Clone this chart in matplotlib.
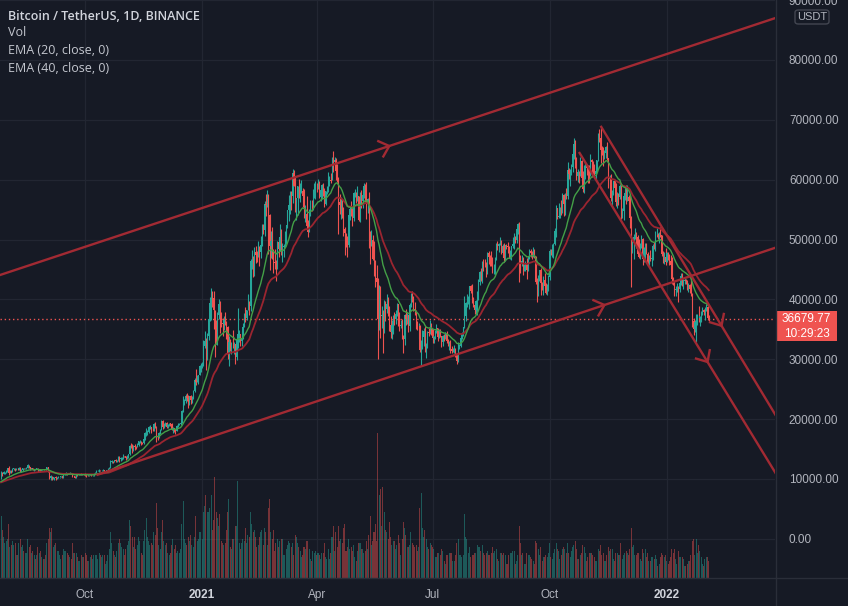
import numpy as np
import pandas as pd
import matplotlib
matplotlib.use("Agg")
import matplotlib.pyplot as plt
from matplotlib.patches import Rectangle, FancyBboxPatch
from matplotlib.lines import Line2D

# ---------------- data (prices in thousand USDT, volume in thousand BTC) ----------------
warmup_start = "2020-06-15"   # closes before the visible window (only feed the EMAs)
warmup_closes_k = [
    9.43, 9.52, 9.46, 9.38, 9.30, 9.36, 9.29, 9.69, 9.63, 9.29, 9.25, 9.16, 9.01, 9.12, 9.19, 9.14,
    9.23, 9.09, 9.06, 9.14, 9.07, 9.34, 9.25, 9.44, 9.24, 9.29, 9.24, 9.30, 9.24, 9.25, 9.19, 9.13,
    9.15, 9.17, 9.21, 9.16, 9.39, 9.54, 9.61, 9.55, 9.70, 9.93,
]

first_day = "2020-07-27"
closes_k = [
    11.03, 10.91, 11.10, 11.11, 11.35,
    11.80, 11.07, 11.23, 11.19, 11.74, 11.76, 11.60, 11.75, 11.68, 11.88, 11.40, 11.58, 11.78, 11.77, 11.86, 11.91, 12.28, 11.95, 11.75, 11.87, 11.52, 11.68, 11.65, 11.77, 11.36, 11.47, 11.33, 11.53, 11.48, 11.71, 11.66,
    11.93, 11.40, 10.17, 10.47, 10.17, 10.26, 10.37, 10.13, 10.23, 10.34, 10.39, 10.44, 10.33, 10.68, 10.79, 10.95, 10.94, 10.93, 11.08, 10.92, 10.42, 10.54, 10.24, 10.74, 10.69, 10.73, 10.77, 10.69, 10.84, 10.78,
    10.62, 10.57, 10.55, 10.67, 10.79, 10.60, 10.67, 10.92, 11.06, 11.30, 11.38, 11.54, 11.43, 11.43, 11.50, 11.32, 11.36, 11.50, 11.75, 11.91, 12.82, 12.97, 12.93, 13.12, 13.03, 13.07, 13.64, 13.27, 13.46, 13.56, 13.80,
    13.76, 13.55, 14.02, 14.14, 15.59, 15.58, 14.83, 15.48, 15.33, 15.30, 15.70, 16.28, 16.32, 16.07, 15.96, 16.73, 17.66, 17.80, 17.82, 18.66, 18.70, 18.42, 18.36, 19.16, 18.72, 17.15, 17.14, 17.72, 18.18, 19.70,
    18.76, 19.20, 19.42, 18.65, 19.15, 19.36, 19.17, 18.32, 18.55, 18.26, 18.04, 18.80, 19.17, 19.27, 19.43, 21.34, 22.80, 23.11, 23.84, 23.47, 22.72, 23.82, 23.25, 23.72, 24.69, 26.49, 26.28, 27.03, 27.36, 28.84, 28.92,
    29.33, 32.18, 33.00, 31.99, 33.95, 36.77, 39.37, 40.67, 40.24, 38.24, 35.54, 34.01, 37.37, 39.16, 36.83, 36.02, 35.82, 36.63, 35.89, 35.47, 30.85, 32.95, 32.08, 32.26, 32.25, 32.47, 30.36, 33.36, 34.25, 34.26, 33.09,
    33.50, 35.47, 37.62, 36.94, 38.29, 39.26, 38.84, 46.37, 46.40, 44.81, 47.97, 47.41, 47.23, 48.68, 47.94, 49.13, 52.12, 51.55, 55.91, 55.84, 57.41, 54.09, 48.89, 49.68, 47.07, 46.28, 46.11, 45.14,
    49.59, 48.44, 50.35, 48.37, 48.76, 48.88, 50.97, 52.38, 54.88, 55.85, 57.77, 57.22, 61.19, 59.00, 55.63, 56.90, 58.91, 57.65, 58.03, 58.10, 57.35, 54.08, 54.34, 52.30, 51.30, 55.03, 55.85, 55.78, 57.63, 58.73, 58.74,
    58.72, 58.95, 57.05, 58.20, 59.12, 57.99, 55.95, 58.08, 58.09, 59.77, 60.00, 59.86, 63.58, 62.96, 63.25, 61.46, 60.06, 56.27, 55.70, 56.47, 53.80, 51.70, 51.15, 50.11, 49.07, 54.03, 55.07, 54.88, 53.58, 57.80,
    57.83, 56.61, 57.21, 53.24, 57.47, 56.43, 57.38, 58.93, 58.28, 55.86, 56.75, 49.95, 49.72, 49.88, 46.76, 46.43, 43.54, 42.91, 36.69, 40.57, 37.29, 37.48, 34.65, 38.80, 38.32, 39.24, 38.53, 35.66, 34.61, 35.68, 37.30,
    36.69, 37.57, 39.19, 36.85, 35.52, 35.80, 33.55, 33.38, 37.39, 36.68, 37.33, 35.55, 39.02, 40.52, 40.14, 38.35, 38.09, 35.82, 35.48, 35.60, 31.61, 32.51, 33.68, 34.66, 31.64, 32.16, 34.64, 34.43, 35.87, 35.04,
    33.54, 33.86, 34.69, 35.29, 33.69, 34.22, 33.88, 32.88, 33.81, 33.51, 34.26, 33.09, 32.73, 32.82, 31.78, 31.39, 31.53, 31.78, 30.84, 29.79, 32.11, 32.29, 33.58, 34.29, 35.38, 37.27, 39.46, 39.99, 40.03, 42.24, 41.46,
    39.85, 39.15, 38.21, 39.72, 40.87, 42.84, 44.61, 43.81, 46.29, 45.60, 45.55, 44.43, 47.82, 47.10, 47.02, 45.92, 44.70, 44.71, 46.76, 49.34, 48.87, 49.29, 49.52, 47.71, 48.99, 46.85, 49.07, 48.90, 48.77, 46.99, 47.11,
    48.85, 49.28, 50.03, 49.94, 51.77, 52.66, 46.86, 46.05, 46.40, 44.85, 45.17, 46.03, 44.96, 47.09, 48.15, 47.75, 47.31, 48.29, 47.26, 42.99, 40.61, 43.56, 44.88, 42.81, 42.70, 43.18, 42.17, 41.03, 41.52, 43.79,
    48.14, 47.66, 48.20, 49.22, 51.47, 55.32, 53.79, 53.95, 54.95, 54.66, 57.47, 56.01, 57.37, 57.35, 61.67, 60.88, 61.53, 62.04, 64.28, 66.00, 62.19, 60.69, 61.29, 60.85, 63.08, 60.33, 58.46, 60.59, 62.25, 61.88, 61.32,
    61.00, 63.23, 62.93, 61.40, 61.01, 61.53, 63.27, 67.53, 66.94, 64.88, 64.81, 64.14, 64.39, 65.47, 63.56, 60.09, 60.34, 56.89, 58.05, 59.71, 58.62, 56.25, 57.27, 57.14, 58.96, 53.73, 54.72, 57.27, 57.81, 56.95,
    57.18, 56.48, 53.60, 49.15, 49.40, 50.44, 50.59, 50.47, 47.54, 47.14, 49.39, 50.05, 46.70, 48.34, 48.86, 47.63, 46.13, 46.83, 46.68, 46.91, 48.91, 48.59, 50.82, 50.82, 50.43, 50.80, 50.70, 47.54, 46.46, 47.12, 46.22,
    47.72, 47.29, 46.45, 45.83, 43.43, 43.08, 41.55, 41.68, 41.86, 41.82, 42.74, 43.92, 42.59, 43.10, 43.18, 43.11, 42.25, 42.37, 41.74, 40.68, 36.45, 35.07, 36.28, 36.65, 36.95, 36.84, 37.16, 37.72, 38.17, 37.92, 38.48,
    38.74, 36.95, 36.67977,
]
highs_k = [
    11.39, 11.24, 11.34, 11.17, 11.45,
    11.86, 12.12, 11.47, 11.42, 11.79, 11.90, 11.92, 11.80, 11.80, 12.07, 11.93, 11.62, 11.80, 11.86, 11.90, 11.96, 12.48, 12.30, 12.01, 11.88, 11.88, 11.69, 11.71, 11.82, 11.78, 11.53, 11.59, 11.55, 11.58, 11.72, 11.79,
    12.07, 11.95, 11.48, 10.63, 10.57, 10.35, 10.41, 10.44, 10.35, 10.48, 10.40, 10.48, 10.58, 10.80, 10.94, 11.10, 11.04, 11.03, 11.18, 11.05, 10.99, 10.58, 10.55, 10.78, 10.77, 10.79, 10.80, 10.95, 10.86, 10.84,
    10.95, 10.66, 10.60, 10.69, 10.80, 10.80, 10.68, 10.96, 11.10, 11.49, 11.44, 11.72, 11.56, 11.55, 11.62, 11.55, 11.40, 11.50, 11.82, 12.03, 13.22, 13.20, 13.03, 13.16, 13.35, 13.24, 13.79, 13.86, 13.64, 13.67, 14.10,
    13.90, 13.82, 14.07, 14.25, 15.75, 15.96, 15.77, 15.65, 15.84, 15.48, 15.96, 16.34, 16.48, 16.33, 16.14, 16.88, 17.86, 18.48, 18.14, 18.82, 18.97, 18.73, 18.77, 19.42, 19.48, 18.91, 17.46, 17.89, 18.35, 19.86,
    19.89, 19.34, 19.57, 19.49, 19.18, 19.42, 19.40, 19.29, 18.64, 18.58, 18.27, 18.95, 19.41, 19.35, 19.57, 21.56, 23.80, 23.29, 24.17, 24.30, 24.10, 23.84, 24.10, 23.79, 24.79, 26.87, 28.42, 27.41, 27.37, 28.99, 29.30,
    29.60, 33.30, 34.78, 33.60, 34.36, 36.94, 40.37, 41.95, 41.38, 41.35, 38.26, 36.63, 37.85, 40.10, 39.70, 37.95, 36.85, 37.30, 37.85, 36.42, 35.60, 33.83, 33.46, 32.94, 34.88, 32.92, 32.56, 33.78, 38.53, 34.93, 34.29,
    34.72, 35.98, 37.66, 38.71, 38.31, 40.96, 39.70, 46.79, 48.20, 47.31, 48.68, 48.98, 48.15, 49.71, 49.00, 50.60, 52.62, 52.53, 56.37, 57.53, 58.35, 57.53, 54.20, 51.37, 52.04, 48.37, 48.40, 46.60,
    49.79, 50.20, 52.64, 51.77, 49.45, 49.20, 51.45, 52.40, 54.90, 57.39, 58.15, 58.06, 61.84, 61.68, 60.63, 56.94, 58.98, 60.10, 59.47, 59.88, 58.59, 58.43, 55.83, 57.20, 53.23, 55.09, 56.64, 56.56, 58.40, 59.37, 59.80,
    59.46, 60.20, 59.80, 58.49, 59.25, 59.48, 58.66, 58.15, 58.89, 61.22, 60.69, 61.20, 63.77, 64.85, 63.82, 63.59, 62.57, 60.40, 57.53, 57.10, 56.78, 55.50, 52.13, 51.17, 50.57, 54.36, 55.46, 56.43, 55.20, 57.96,
    58.46, 57.92, 58.98, 57.20, 57.96, 58.36, 58.65, 59.50, 59.30, 59.60, 57.00, 58.00, 51.37, 51.57, 50.70, 49.80, 46.64, 45.82, 43.55, 42.45, 42.20, 38.83, 38.27, 39.92, 39.80, 40.90, 40.41, 38.88, 37.23, 36.48, 37.47,
    37.90, 38.23, 39.48, 39.29, 37.92, 36.49, 36.79, 34.07, 37.53, 38.40, 37.69, 37.45, 39.39, 41.06, 41.33, 40.53, 39.56, 38.20, 36.46, 36.11, 35.75, 33.30, 34.88, 35.30, 35.50, 32.70, 34.73, 35.30, 36.60, 36.10,
    35.04, 33.94, 34.95, 35.94, 35.29, 35.06, 35.11, 33.93, 34.10, 34.27, 34.59, 34.68, 33.34, 33.11, 33.19, 32.25, 31.94, 32.44, 31.90, 31.06, 32.86, 32.58, 33.65, 34.50, 35.40, 40.55, 39.54, 40.90, 40.63, 42.32, 42.42,
    42.60, 40.45, 39.78, 39.97, 41.40, 43.39, 44.74, 45.31, 46.45, 46.67, 46.74, 46.22, 47.89, 48.14, 47.37, 48.05, 47.16, 46.00, 47.05, 49.38, 49.76, 49.50, 50.50, 49.88, 49.24, 49.38, 49.17, 49.31, 49.65, 48.91, 48.25,
    48.95, 50.40, 51.05, 50.56, 51.90, 52.78, 52.92, 47.40, 47.35, 47.03, 45.99, 46.46, 46.88, 47.25, 48.49, 48.49, 48.17, 48.82, 48.37, 47.33, 43.64, 44.00, 44.98, 45.20, 42.97, 43.94, 44.35, 42.79, 42.59, 44.13,
    48.50, 48.36, 49.30, 49.50, 51.89, 55.75, 55.34, 56.10, 55.49, 56.56, 57.84, 57.68, 57.75, 58.53, 62.93, 62.00, 61.72, 62.70, 64.49, 67.00, 66.64, 63.73, 61.75, 61.49, 63.71, 63.29, 61.50, 62.50, 62.98, 62.35, 62.41,
    62.44, 64.27, 63.52, 63.09, 62.60, 61.60, 63.29, 67.79, 68.53, 69.00, 65.60, 65.45, 64.97, 65.55, 66.34, 63.58, 60.82, 60.92, 58.35, 59.86, 60.00, 59.53, 57.88, 57.77, 59.40, 59.18, 55.28, 57.45, 58.87, 59.18,
    59.05, 57.38, 57.60, 53.90, 49.70, 50.90, 51.94, 51.20, 50.80, 50.10, 49.48, 50.80, 50.20, 48.70, 49.50, 49.44, 48.00, 47.36, 48.30, 47.54, 49.33, 49.58, 51.38, 51.87, 51.16, 51.28, 52.09, 50.70, 48.14, 47.90, 48.55,
    47.95, 47.99, 47.57, 47.50, 47.07, 43.75, 43.15, 42.30, 42.79, 42.25, 43.10, 44.35, 44.46, 43.47, 43.80, 43.48, 43.20, 42.69, 42.60, 43.50, 41.10, 36.84, 36.50, 37.55, 37.55, 38.92, 37.23, 38.00, 38.72, 38.36, 38.74,
    39.27, 38.86, 37.39,
]
lows_k = [
    9.92, 10.56, 10.83, 10.85, 10.97,
    11.23, 10.66, 10.92, 11.01, 11.09, 11.57, 11.36, 11.52, 11.52, 11.53, 11.12, 11.16, 11.29, 11.65, 11.69, 11.69, 11.85, 11.82, 11.55, 11.68, 11.49, 11.38, 11.53, 11.59, 11.12, 11.26, 11.14, 11.30, 11.43, 11.47, 11.58,
    11.65, 11.17, 10.00, 9.88, 9.82, 10.02, 9.88, 9.85, 10.00, 10.15, 10.20, 10.27, 10.20, 10.22, 10.64, 10.67, 10.75, 10.81, 10.89, 10.81, 10.28, 10.35, 10.14, 10.20, 10.56, 10.64, 10.62, 10.64, 10.64, 10.67,
    10.53, 10.37, 10.50, 10.53, 10.63, 10.53, 10.57, 10.53, 10.83, 11.05, 11.28, 11.23, 11.30, 11.28, 11.26, 11.21, 11.31, 11.35, 11.41, 11.69, 11.90, 12.69, 12.72, 12.88, 12.89, 12.78, 13.06, 12.91, 12.98, 13.12, 13.42,
    13.60, 13.20, 13.29, 13.53, 14.09, 15.17, 14.34, 14.70, 14.81, 15.07, 15.28, 15.43, 15.95, 15.73, 15.81, 15.87, 16.55, 17.21, 17.34, 17.76, 18.37, 17.61, 18.00, 18.02, 18.52, 16.19, 16.44, 16.87, 17.51, 18.18,
    18.33, 18.56, 18.92, 18.59, 18.50, 18.85, 18.90, 18.20, 17.65, 17.91, 17.57, 18.02, 18.71, 19.00, 19.05, 19.29, 21.23, 22.35, 22.75, 23.06, 21.82, 22.35, 22.60, 22.70, 23.43, 24.50, 25.70, 26.22, 25.88, 27.32, 27.85,
    28.62, 28.95, 31.96, 28.13, 29.90, 33.29, 36.37, 36.50, 38.72, 35.11, 30.42, 32.53, 32.38, 36.70, 34.41, 35.36, 33.85, 34.87, 35.75, 33.40, 30.07, 28.85, 31.39, 30.88, 31.91, 30.84, 29.24, 29.84, 31.92, 32.82, 32.30,
    32.30, 33.42, 35.36, 36.16, 36.57, 38.21, 37.35, 37.99, 45.02, 43.73, 43.99, 46.13, 46.20, 47.01, 45.57, 47.00, 48.95, 50.90, 50.63, 54.00, 55.48, 47.62, 44.89, 47.00, 46.67, 44.45, 45.04, 43.00,
    45.04, 47.05, 48.10, 47.50, 46.30, 47.07, 48.75, 49.27, 51.85, 53.03, 54.27, 55.00, 56.08, 59.00, 54.57, 53.27, 54.12, 57.02, 56.27, 57.82, 55.45, 53.65, 53.00, 51.70, 50.43, 51.32, 53.96, 54.70, 54.90, 57.01, 56.77,
    57.90, 58.45, 56.96, 56.50, 56.79, 57.35, 55.47, 55.70, 57.67, 57.87, 59.00, 59.37, 59.87, 61.30, 62.02, 60.00, 59.60, 51.00, 54.22, 53.40, 53.60, 50.58, 47.50, 48.75, 47.06, 48.80, 53.22, 53.88, 52.33, 53.07,
    57.05, 56.04, 56.44, 53.05, 52.90, 55.20, 55.24, 56.92, 56.24, 53.40, 54.45, 48.60, 46.00, 48.90, 46.56, 43.83, 42.00, 42.29, 30.00, 34.86, 33.49, 35.26, 31.11, 34.38, 36.42, 37.80, 37.17, 34.68, 33.63, 33.38, 34.15,
    35.67, 35.92, 37.17, 35.57, 34.80, 35.26, 33.34, 31.00, 32.40, 35.78, 35.94, 34.60, 34.75, 38.73, 39.51, 38.12, 37.37, 35.13, 34.82, 33.34, 31.25, 28.81, 31.68, 32.29, 31.28, 30.15, 31.96, 33.86, 34.23, 34.00,
    32.71, 32.70, 33.31, 34.45, 33.13, 33.53, 33.77, 32.11, 32.26, 33.00, 33.32, 32.66, 32.20, 31.60, 31.13, 31.02, 31.18, 31.10, 30.41, 29.28, 29.48, 31.71, 32.10, 33.40, 33.88, 35.21, 36.40, 38.77, 39.20, 38.32, 41.00,
    39.42, 38.69, 37.64, 37.51, 37.33, 39.85, 42.45, 43.09, 42.80, 44.67, 45.35, 43.77, 44.24, 45.97, 45.52, 45.66, 44.38, 44.20, 43.93, 46.63, 48.25, 48.00, 49.03, 47.60, 47.13, 46.32, 46.36, 48.37, 47.76, 46.87, 46.70,
    46.51, 48.63, 48.37, 49.50, 49.50, 50.97, 42.84, 44.41, 45.51, 44.14, 44.75, 44.74, 43.37, 44.75, 46.69, 47.01, 46.75, 47.05, 46.85, 42.50, 39.60, 40.56, 43.09, 40.68, 41.65, 40.80, 42.11, 40.93, 40.75, 41.41,
    43.29, 47.44, 47.12, 46.92, 49.06, 50.38, 53.36, 53.62, 53.66, 54.09, 54.42, 53.88, 54.17, 56.82, 56.85, 60.15, 58.96, 60.85, 61.32, 63.48, 62.00, 60.00, 59.67, 59.51, 60.65, 59.82, 58.00, 57.82, 60.17, 60.72, 59.43,
    59.41, 60.62, 60.38, 60.69, 60.72, 60.10, 61.32, 63.09, 66.38, 62.82, 64.10, 62.28, 63.40, 63.62, 63.36, 58.58, 58.37, 56.47, 55.60, 57.42, 58.47, 55.60, 55.30, 55.85, 56.70, 53.50, 53.61, 53.25, 56.66, 56.00,
    56.46, 55.84, 52.00, 42.00, 47.73, 46.75, 50.04, 48.60, 47.32, 46.85, 46.75, 48.64, 45.67, 46.32, 46.55, 47.51, 45.50, 45.52, 46.41, 45.58, 46.64, 48.42, 48.05, 50.40, 50.17, 49.42, 50.45, 47.31, 46.10, 45.90, 45.68,
    46.21, 46.65, 45.70, 45.50, 42.50, 42.43, 40.61, 40.50, 41.27, 39.65, 41.27, 42.45, 42.31, 41.73, 42.58, 42.62, 41.54, 41.25, 41.14, 40.55, 35.44, 34.01, 34.60, 32.92, 35.70, 36.25, 35.51, 36.16, 37.35, 37.35, 36.63,
    38.00, 36.59, 36.25,
]
volumes_kbtc = [
    150, 115, 100, 85, 90,
    95, 130, 75, 80, 90, 80, 85, 55, 55, 85, 95, 75, 80, 65, 60, 60, 95, 75, 80, 60, 65, 55, 45, 55, 75, 60, 65, 50, 45, 45, 55,
    85, 95, 120, 110, 120, 75, 80, 85, 65, 65, 55, 45, 55, 70, 65, 65, 60, 55, 50, 45, 85, 60, 60, 60, 50, 40, 40, 55, 50, 50,
    60, 55, 40, 40, 50, 55, 45, 55, 55, 55, 45, 60, 55, 50, 55, 55, 35, 40, 55, 70, 110, 85, 65, 55, 50, 65, 85, 95, 85, 75, 70,
    55, 70, 80, 90, 140, 125, 100, 75, 100, 70, 80, 100, 90, 60, 55, 90, 115, 145, 100, 90, 80, 85, 80, 110, 105, 180, 120, 80, 70, 110,
    140, 90, 80, 85, 60, 55, 60, 80, 95, 70, 80, 60, 65, 60, 70, 130, 185, 95, 85, 80, 100, 90, 105, 80, 75, 100, 150, 90, 95, 110, 110,
    95, 160, 175, 200, 160, 160, 170, 200, 115, 140, 245, 160, 145, 125, 155, 90, 85, 80, 85, 115, 160, 190, 75, 70, 95, 95, 125, 125, 235, 85, 70,
    85, 95, 90, 120, 85, 105, 100, 160, 130, 110, 115, 100, 75, 80, 100, 110, 115, 80, 120, 110, 80, 170, 190, 110, 95, 115, 65, 85,
    95, 75, 90, 95, 95, 55, 55, 70, 80, 90, 85, 75, 85, 55, 105, 100, 85, 75, 65, 50, 55, 75, 70, 90, 90, 70, 45, 40, 65, 60, 65,
    55, 60, 55, 45, 60, 60, 85, 50, 45, 70, 45, 60, 100, 125, 65, 110, 75, 125, 90, 95, 85, 120, 130, 65, 75, 95, 70, 75, 65, 80,
    50, 40, 65, 85, 85, 70, 70, 60, 65, 90, 70, 105, 150, 80, 90, 110, 130, 90, 350, 200, 215, 125, 220, 160, 115, 110, 95, 135, 100, 80, 90,
    90, 70, 80, 105, 85, 55, 95, 135, 120, 105, 75, 75, 80, 110, 85, 80, 75, 80, 65, 75, 170, 205, 120, 100, 115, 95, 75, 70, 85, 80,
    75, 70, 50, 50, 60, 60, 55, 70, 65, 40, 35, 55, 55, 60, 60, 60, 40, 40, 55, 85, 95, 55, 55, 50, 55, 155, 100, 95, 60, 75, 50,
    55, 55, 60, 60, 80, 75, 75, 65, 80, 60, 55, 60, 65, 55, 55, 60, 75, 60, 65, 70, 45, 40, 60, 60, 55, 60, 55, 35, 35, 55, 60,
    60, 65, 65, 35, 40, 55, 125, 85, 55, 60, 35, 35, 60, 55, 55, 50, 45, 40, 35, 90, 85, 70, 55, 75, 40, 50, 50, 55, 50, 60,
    85, 50, 45, 60, 70, 85, 70, 65, 45, 55, 70, 75, 70, 60, 85, 60, 50, 65, 75, 80, 90, 70, 45, 45, 55, 60, 80, 75, 60, 40, 50,
    60, 60, 60, 55, 50, 40, 40, 70, 65, 80, 55, 60, 40, 40, 55, 75, 65, 70, 70, 45, 40, 60, 60, 55, 55, 85, 45, 55, 60, 65,
    60, 55, 70, 120, 75, 80, 55, 55, 60, 60, 45, 40, 70, 60, 70, 50, 60, 40, 40, 50, 50, 45, 55, 45, 30, 35, 50, 60, 55, 50, 55,
    40, 35, 40, 50, 70, 60, 70, 45, 35, 65, 50, 50, 50, 45, 30, 30, 35, 40, 40, 55, 90, 95, 55, 95, 60, 80, 65, 50, 35, 30, 45,
    50, 50, 40,
]

month_ticks = ["2020-10-01", "2021-01-01", "2021-04-01", "2021-07-01", "2021-10-01", "2022-01-01"]
month_labels = ["Oct", "2021", "Apr", "Jul", "Oct", "2022"]
price_ticks = [0, 10000, 20000, 30000, 40000, 50000, 60000, 70000, 80000, 90000]

# drawn trend lines: start point and arrow point (date, price); extended to the right
line_starts = [("2020-07-01", 42300), ("2020-10-10", 10650), ("2021-11-10", 69000), ("2021-10-24", 64630)]
line_arrows = [("2021-05-28", 65630), ("2021-11-13", 39070), ("2022-02-13", 35600), ("2022-02-02", 29550)]

legend_lines = ["Bitcoin / TetherUS, 1D, BINANCE", "Vol", "EMA (20, close, 0)", "EMA (40, close, 0)"]
countdown = "10:29:23"

# ---------------- styling ----------------
BG = "#161a25"
GRID = "#222632"
TXT = "#b2b5be"
UP = "#26a69a"
DN = "#ef5350"
VUP = (38 / 255, 166 / 255, 154 / 255, 0.45)
VDN = (239 / 255, 83 / 255, 80 / 255, 0.45)
EMA20C = "#43a047"
EMA40C = "#9a2530"
LINEC = "#a22a33"
SEP = "#2a2e39"
UI_FONT = ["Open Sans", "DejaVu Sans"]
AX_FONT = ["Liberation Sans", "DejaVu Sans"]

# ---------------- prepare ----------------
n = min(len(closes_k), len(highs_k), len(lows_k), len(volumes_kbtc))
closes = np.array(closes_k[:n]) * 1000
highs = np.array(highs_k[:n]) * 1000
lows = np.array(lows_k[:n]) * 1000
vols = np.array(volumes_kbtc[:n], dtype=float)
warm = np.array(warmup_closes_k) * 1000
opens = np.concatenate([[warm[-1]], closes[:-1]])

T0 = pd.Timestamp("2020-10-01")
dates = pd.date_range(first_day, periods=n, freq="D")
x = np.asarray((dates - T0).days, dtype=float)

def dx(s):
    return float((pd.Timestamp(s) - T0).days)

series = pd.Series(np.concatenate([warm, closes]))
ema20 = series.ewm(span=20, adjust=False).mean().values[len(warm):]
ema40 = series.ewm(span=40, adjust=False).mean().values[len(warm):]

W, H = 848, 606
fig = plt.figure(figsize=(W / 100, H / 100), dpi=100, facecolor=BG)
rect = [0, 28 / H, 775 / W, 578 / H]
XL = (-66.8, 542.0)
YL = (-6540, 90020)

# background axes: grid
axg = fig.add_axes(rect, zorder=0)
axg.set_facecolor(BG)
axg.set_xlim(*XL); axg.set_ylim(*YL)
for d in month_ticks:
    axg.axvline(dx(d), color=GRID, lw=0.9)
for p in price_ticks:
    axg.axhline(p, color=GRID, lw=0.9)
axg.set_xticks([]); axg.set_yticks([])
for s in axg.spines.values():
    s.set_visible(False)

# volume overlay axes
axv = fig.add_axes(rect, zorder=0.5)
axv.patch.set_visible(False)
axv.set_xlim(*XL)
up = closes >= opens
axv.bar(x, vols, width=0.8, color=[VUP if u else VDN for u in up], linewidth=0)
axv.set_ylim(0, vols.max() * 578 / 145)
axv.axis("off")

# price axes
ax = fig.add_axes(rect, zorder=1)
ax.patch.set_visible(False)
ax.set_xlim(*XL)
ax.set_ylim(*YL)

cols = np.where(up, UP, DN)
ax.vlines(x, lows, highs, colors=cols, linewidth=0.8, zorder=2)
ax.bar(x, np.abs(closes - opens), bottom=np.minimum(opens, closes), width=0.62,
       color=cols, linewidth=0, zorder=3)

ax.plot(x, ema40, color=EMA40C, lw=1.3, zorder=4)
ax.plot(x, ema20, color=EMA20C, lw=1.0, zorder=4)

ax.axhline(closes[-1], color=DN, lw=1.0, ls=(0, (1, 2)), zorder=1.5)

fig.canvas.draw()
T = ax.transData
for (da, pa), (db, pb) in zip(line_starts, line_arrows):
    xa, xb = dx(da), dx(db)
    slope = (pb - pa) / (xb - xa)
    xe = XL[1] + 20
    ax.plot([xa, xe], [pa, pa + slope * (xe - xa)], color=LINEC, lw=1.7, zorder=5,
            solid_capstyle="butt")
    a = T.transform((xa, pa)); b = T.transform((xb, pb))
    d = (b - a) / np.linalg.norm(b - a)
    pts = []
    for sgn in (1, -1):
        th = np.deg2rad(180 + sgn * 42)
        r = np.array([d[0] * np.cos(th) - d[1] * np.sin(th), d[0] * np.sin(th) + d[1] * np.cos(th)])
        pts.append(b + 12 * r)
    arr = T.inverted().transform(np.array([pts[0], b, pts[1]]))
    ax.plot(arr[:, 0], arr[:, 1], color=LINEC, lw=1.7, zorder=5, solid_joinstyle="miter")

for s in ax.spines.values():
    s.set_visible(False)
ax.yaxis.tick_right()
ax.set_yticks(price_ticks)
ax.set_yticklabels([f"{v:.2f}" for v in price_ticks])
ax.tick_params(axis="y", length=0, pad=10, labelsize=8.5, labelcolor=TXT)
ax.set_xticks([dx(d) for d in month_ticks])
ax.set_xticklabels(month_labels)
ax.tick_params(axis="x", length=0, pad=8, labelsize=8.5, labelcolor=TXT)
for lab in ax.get_yticklabels() + ax.get_xticklabels():
    lab.set_fontfamily(AX_FONT)
for lab, t in zip(ax.get_xticklabels(), month_labels):
    if t.isdigit():
        lab.set_fontweight("bold")
        lab.set_color("#d1d4dc")

fig.add_artist(Line2D([775.5 / W, 775.5 / W], [0, 1], transform=fig.transFigure, color=SEP, lw=1))
fig.add_artist(Line2D([0, 1], [28 / H, 28 / H], transform=fig.transFigure, color=SEP, lw=1))

ypx = 578 * (1 - (closes[-1] - YL[0]) / (YL[1] - YL[0]))
fig.add_artist(Rectangle((776 / W, 1 - (ypx + 22) / H), 61 / W, 30 / H, transform=fig.transFigure,
                         facecolor=DN, edgecolor="none"))
fig.text(806.5 / W, 1 - ypx / H, f"{closes[-1]:.2f}", color="white", fontsize=8.5,
         ha="center", va="center", family=AX_FONT)
fig.text(806.5 / W, 1 - (ypx + 15) / H, countdown, color="white", fontsize=8.5,
         ha="center", va="center", family=AX_FONT)

fig.add_artist(FancyBboxPatch((795 / W, 1 - 24 / H), 34 / W, 14 / H,
                              boxstyle="round,pad=0,rounding_size=0.004", transform=fig.transFigure,
                              facecolor=BG, edgecolor="#434651", lw=1))
fig.text(812 / W, 1 - 17 / H, "USDT", color=TXT, fontsize=8, ha="center", va="center", family=AX_FONT)

ys = [16, 33, 51, 68]
for i, (t, yy) in enumerate(zip(legend_lines, ys)):
    fig.text(8 / W, 1 - yy / H, t, color="#d1d4dc" if i == 0 else "#c3c6ce", fontsize=9.0,
             fontweight="semibold" if i == 0 else "normal", ha="left", va="center", family=UI_FONT)

fig.savefig("out.png", dpi=100, facecolor=BG)
